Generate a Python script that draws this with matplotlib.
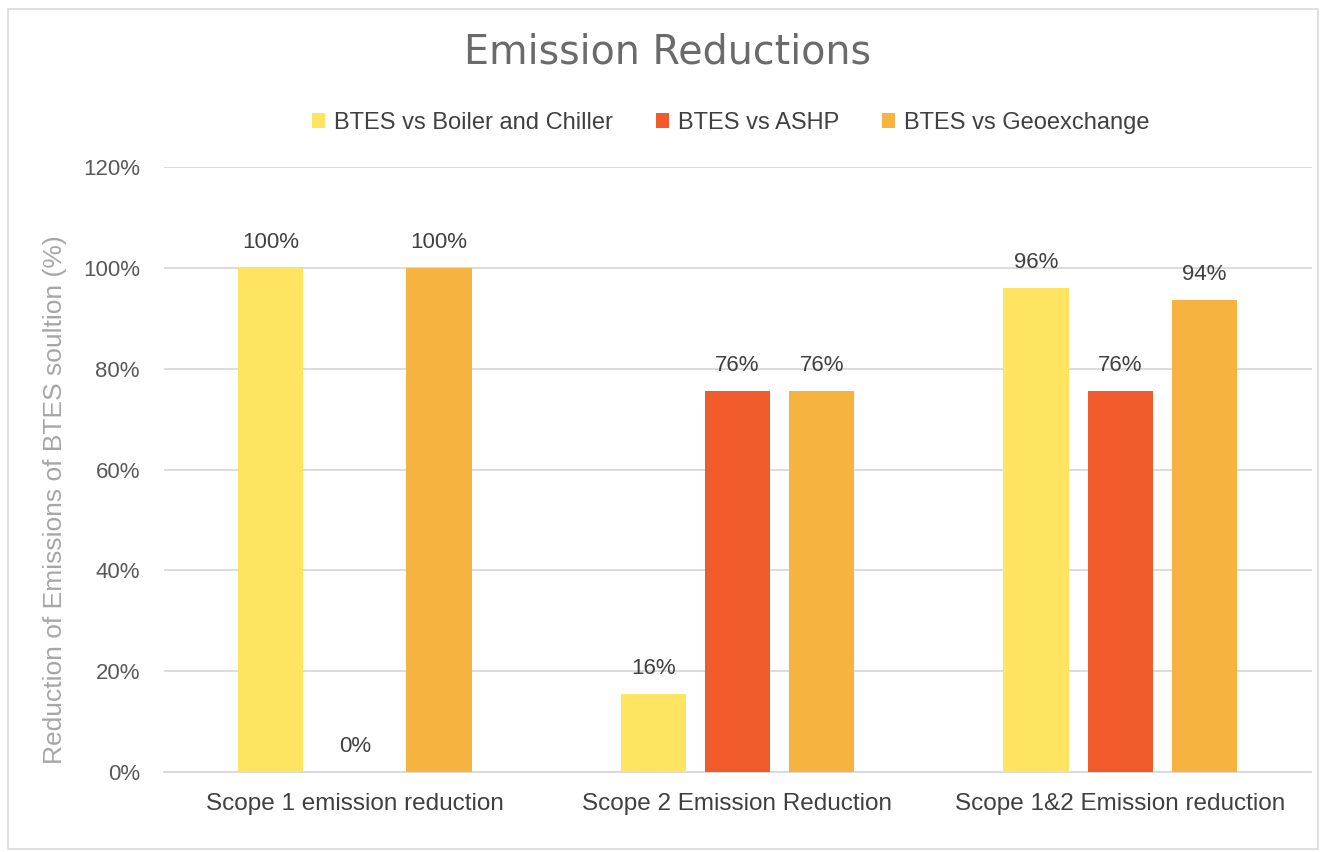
import matplotlib
matplotlib.use("Agg")
import matplotlib.pyplot as plt
from matplotlib.patches import Rectangle
import numpy as np

categories = ["Scope 1 emission reduction", "Scope 2 Emission Reduction", "Scope 1&2 Emission reduction"]
series_names = ["BTES vs Boiler and Chiller", "BTES vs ASHP", "BTES vs Geoexchange"]
boiler_chiller = [100, 15.5, 96.0]
ashp = [0, 75.6, 75.6]
geoexchange = [100, 75.6, 93.7]
labels_boiler = ["100%", "16%", "96%"]
labels_ashp = ["0%", "76%", "76%"]
labels_geo = ["100%", "76%", "94%"]
yticks = [0, 20, 40, 60, 80, 100, 120]

colors = ["#FFE462", "#F15A2B", "#F7B33F"]
plt.rcParams['font.family'] = ['Liberation Sans', 'DejaVu Sans']

fig = plt.figure(figsize=(13.28, 8.52), dpi=100)
W, H = 1328, 852
ax = fig.add_axes([163.5 / W, 1 - 772 / H, (1311.5 - 163.5) / W, (772 - 167) / H])

x = np.arange(len(categories))
width = 0.17
offset = 0.22
all_vals = [boiler_chiller, ashp, geoexchange]
all_labels = [labels_boiler, labels_ashp, labels_geo]
for i, (vals, labs) in enumerate(zip(all_vals, all_labels)):
    pos = x + (i - 1) * offset
    ax.bar(pos, vals, width, color=colors[i], label=series_names[i], zorder=3)
    for p, v, l in zip(pos, vals, labs):
        ax.annotate(l, (p, v), xytext=(0, 18), textcoords='offset points',
                    ha='center', va='center', fontsize=16, color='#404040', zorder=4)

ax.set_xlim(-0.5, 2.5)
ax.set_ylim(0, 120)
ax.set_yticks(yticks)
ax.set_yticklabels([f"{t}%" for t in yticks], fontsize=16, color='#595959')
ax.set_xticks(x)
ax.set_xticklabels(categories, fontsize=17.5, color='#404040')
ax.tick_params(axis='both', length=0)
ax.tick_params(axis='y', pad=17)
ax.tick_params(axis='x', pad=15)
ax.grid(axis='y', color='#D9D9D9', linewidth=1.3, zorder=0)
for s in ['top', 'right', 'left']:
    ax.spines[s].set_visible(False)
ax.spines['bottom'].set_color('#D9D9D9')
ax.spines['bottom'].set_linewidth(1.3)

fig.text(55 / W, 1 - 500 / H, "Reduction of Emissions of BTES soultion (%)", rotation=90,
         ha='center', va='center', fontsize=19, color='#A6A6A6')

fig.text(668 / W, 1 - 52 / H, "Emission Reductions", ha='center', va='center', fontsize=28.5,
         color='#6A6A6A', family=['DejaVu Sans'])

leg = fig.legend(loc='center', bbox_to_anchor=(731 / W, 1 - 123 / H), ncol=3, frameon=False,
                 fontsize=17, handlelength=0.55, handleheight=0.6, columnspacing=1.8, handletextpad=0.4)
for t in leg.get_texts():
    t.set_color('#404040')

fig.patches.append(Rectangle((8 / W, 1 - 849 / H), 1310 / W, 840 / H, transform=fig.transFigure,
                             fill=False, edgecolor='#D9D9D9', linewidth=1.2))

fig.savefig("out.png", dpi=100)
